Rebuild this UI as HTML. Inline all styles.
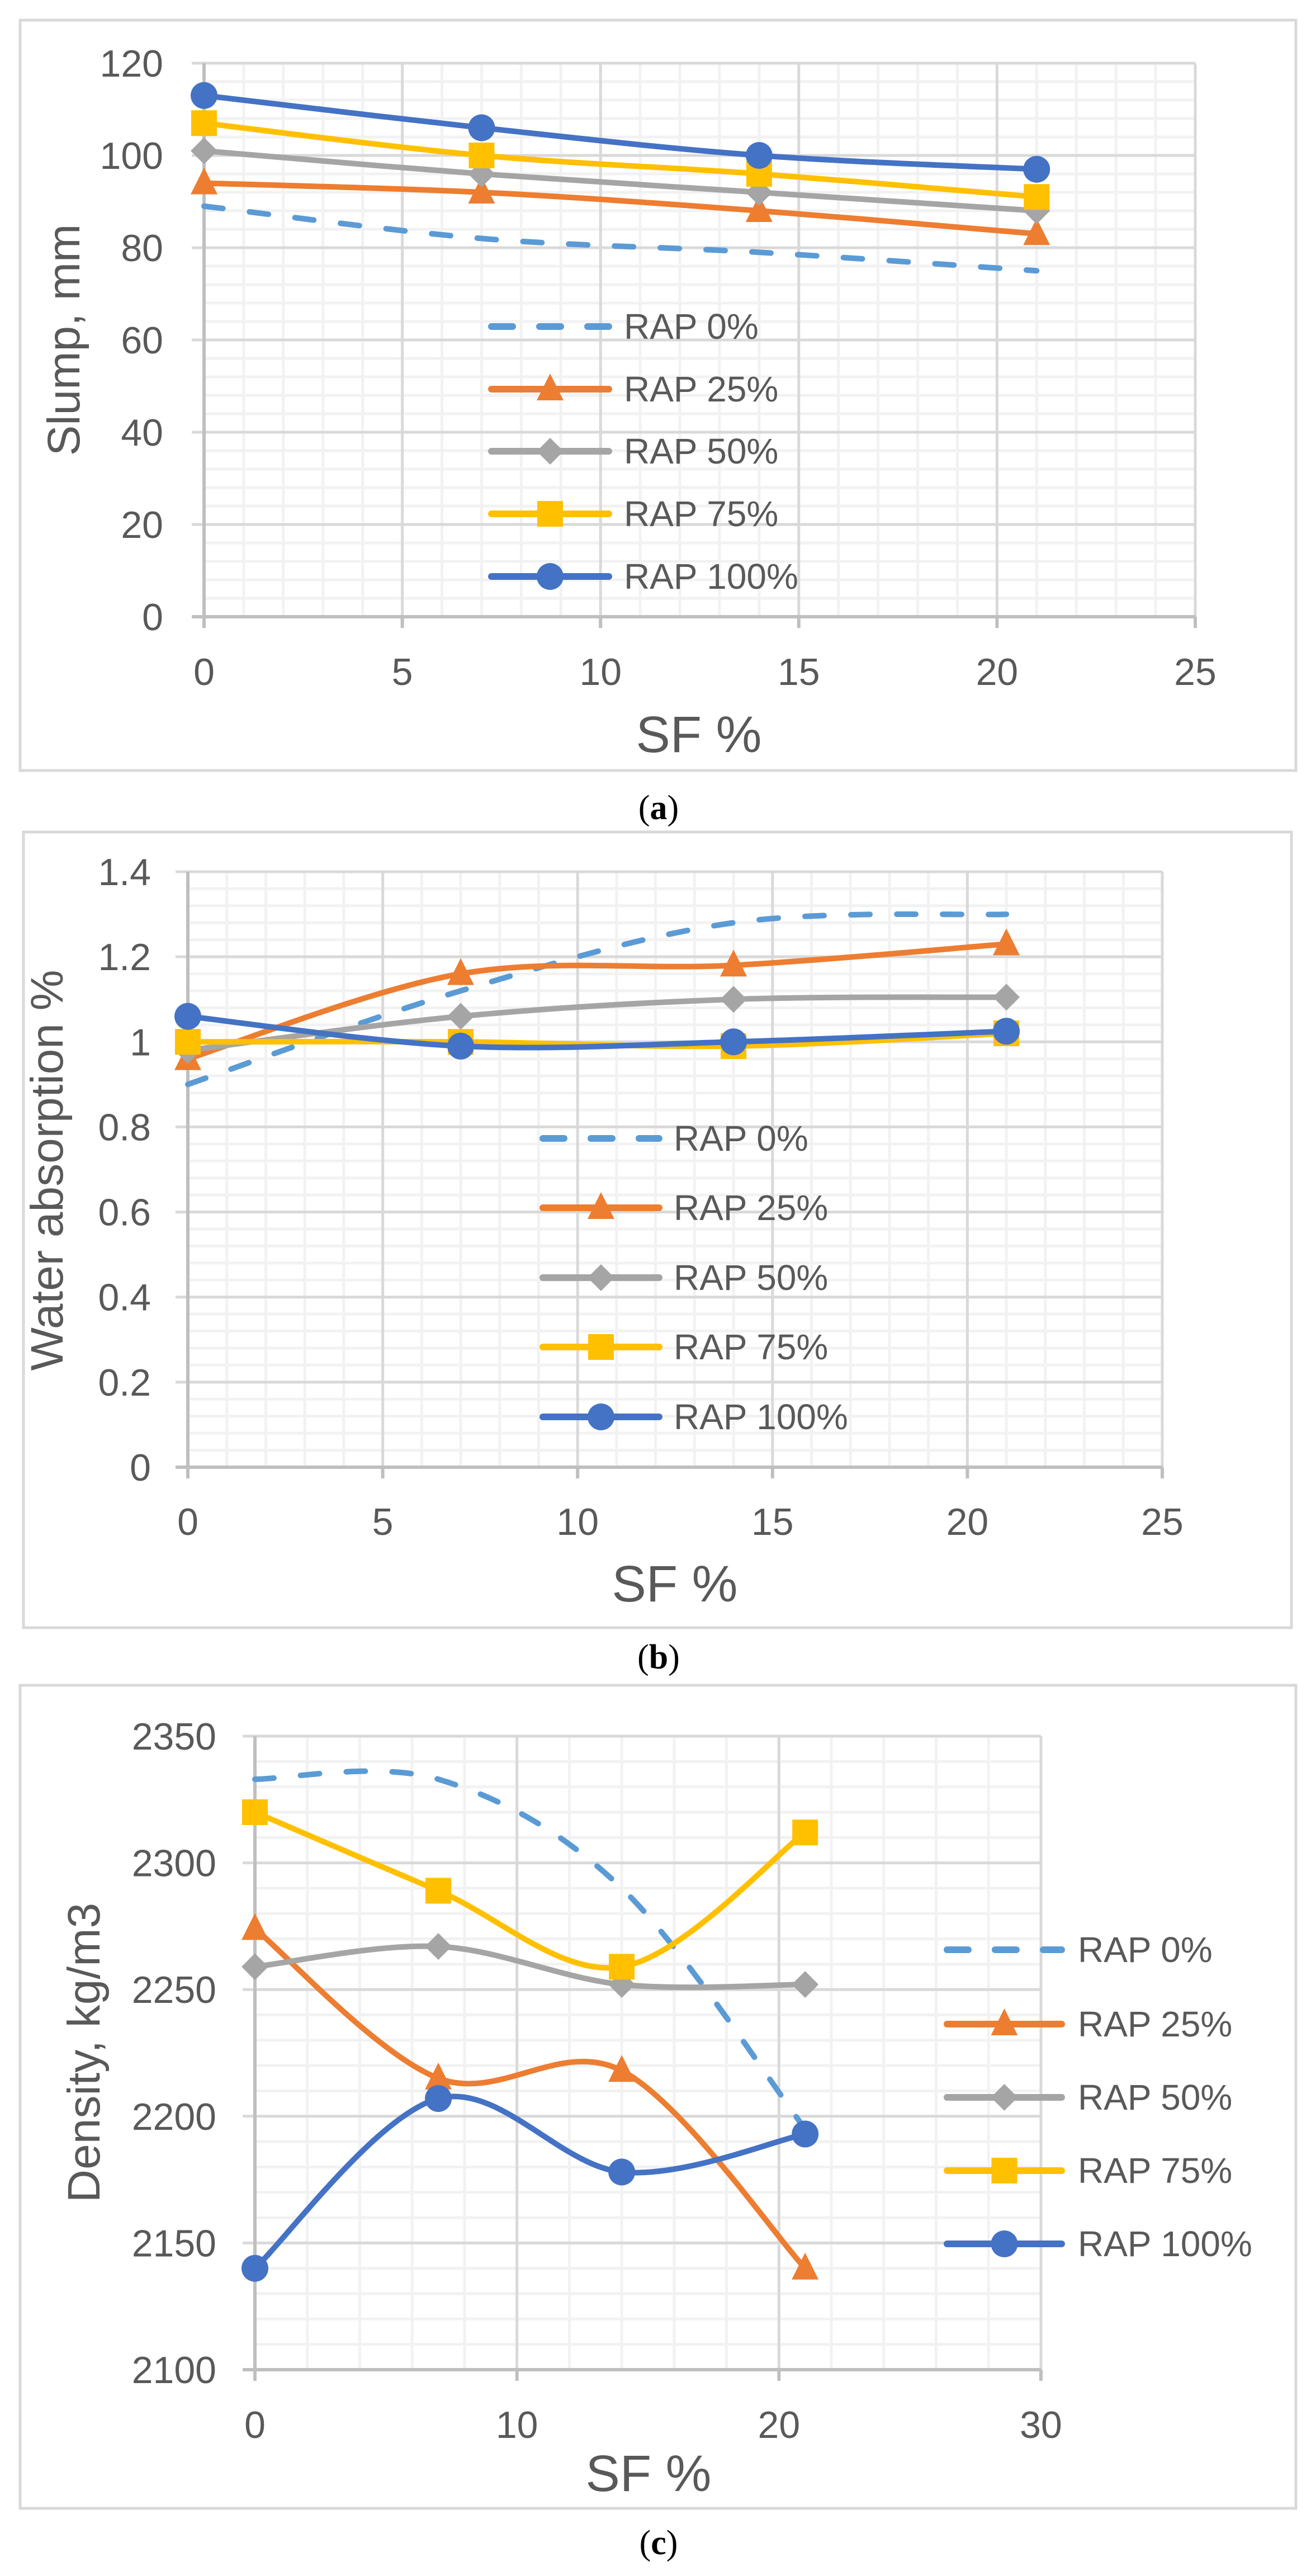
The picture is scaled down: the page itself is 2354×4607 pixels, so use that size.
<!DOCTYPE html>
<html><head><meta charset="utf-8"><style>
html,body{margin:0;padding:0;background:#fff;}
svg{display:block;}
text{font-family:"Liberation Sans Narrow","Liberation Sans",sans-serif;fill:#595959;}
.ttl{font-family:"Liberation Sans",sans-serif;}
.cap{font-family:"Liberation Serif",serif;fill:#000;}
</style></head><body>
<svg id="root" width="2354" height="4607" viewBox="0 0 2354 4607" xmlns="http://www.w3.org/2000/svg"></svg>
<script>
// ---- data ----
const sfValues = [0, 7, 14, 21];
const seriesNames = ["RAP 0%", "RAP 25%", "RAP 50%", "RAP 75%", "RAP 100%"];
const slumpRap0 = [89, 82, 79, 75];
const slumpRap25 = [94, 92, 88, 83];
const slumpRap50 = [101, 96, 92, 88];
const slumpRap75 = [107, 100, 96, 91];
const slumpRap100 = [113, 106, 100, 97];
const absRap0 = [0.90, 1.12, 1.28, 1.30];
const absRap25 = [0.96, 1.16, 1.18, 1.23];
const absRap50 = [0.98, 1.06, 1.10, 1.105];
const absRap75 = [1.00, 1.00, 0.99, 1.02];
const absRap100 = [1.06, 0.99, 1.00, 1.025];
const denRap0 = [2333, 2333, 2290, 2195];
const denRap25 = [2274, 2215, 2218, 2140];
const denRap50 = [2259, 2267, 2252, 2252];
const denRap75 = [2320, 2289, 2259, 2312];
const denRap100 = [2140, 2207, 2178, 2193];
const slumpYTicks = [0, 20, 40, 60, 80, 100, 120];
const absYTicks = [0, 0.2, 0.4, 0.6, 0.8, 1, 1.2, 1.4];
const denYTicks = [2100, 2150, 2200, 2250, 2300, 2350];
const xTicksAB = [0, 5, 10, 15, 20, 25];
const xTicksC = [0, 10, 20, 30];

const colors = ["#5b9bd5", "#ed7d31", "#a5a5a5", "#ffc000", "#4472c4"];
const markers = ["none", "tri", "dia", "sq", "circ"];
const NS = "http://www.w3.org/2000/svg";
const root = document.getElementById('root');
function mk(tag, attrs, parent) {
  const e = document.createElementNS(NS, tag);
  for (const k in attrs) e.setAttribute(k, attrs[k]);
  (parent || root).appendChild(e);
  return e;
}
function smoothPath(pts) {
  let d = "M" + pts[0][0] + "," + pts[0][1];
  const t = 1 / 6;
  for (let i = 0; i < pts.length - 1; i++) {
    const p0 = pts[Math.max(0, i - 1)], p1 = pts[i], p2 = pts[i + 1], p3 = pts[Math.min(pts.length - 1, i + 2)];
    const c1 = [p1[0] + (p2[0] - p0[0]) * t, p1[1] + (p2[1] - p0[1]) * t];
    const c2 = [p2[0] - (p3[0] - p1[0]) * t, p2[1] - (p3[1] - p1[1]) * t];
    d += " C" + c1[0] + "," + c1[1] + " " + c2[0] + "," + c2[1] + " " + p2[0] + "," + p2[1];
  }
  return d;
}
function marker(g, type, x, y, color) {
  let m = null;
  if (type === "circ") m = mk('circle', {cx: x, cy: y, r: 24, fill: color}, g);
  else if (type === "sq") m = mk('rect', {x: x - 23, y: y - 23, width: 46, height: 46, fill: color}, g);
  else if (type === "tri") m = mk('polygon', {points: (x) + "," + (y - 28) + " " + (x + 24) + "," + (y + 20) + " " + (x - 24) + "," + (y + 20), fill: color}, g);
  else if (type === "dia") m = mk('polygon', {points: x + "," + (y - 24) + " " + (x + 24) + "," + y + " " + x + "," + (y + 24) + " " + (x - 24) + "," + y, fill: color}, g);
  if (m) {
    
    
  }
}
function chart(c) {
  const g = mk('g', {});
  
  
  const fr = mk('rect', {x: c.fx1, y: c.fy1, width: c.fx2 - c.fx1, height: c.fy2 - c.fy1, fill: "#fff", stroke: "#d9d9d9", "stroke-width": 5}, g);
  
  
  const X = v => c.px0 + (v - c.xmin) / (c.xmax - c.xmin) * (c.px1 - c.px0);
  const Y = v => c.py0 + (v - c.ymin) / (c.ymax - c.ymin) * (c.py1 - c.py0);
  const grid = mk('g', {}, g);
  
  
  for (let v = c.xmin; v <= c.xmax + 1e-9; v += c.xminor) mk('line', {x1: X(v), x2: X(v), y1: c.py1, y2: c.py0, stroke: "#f2f2f2", "stroke-width": 5}, grid);
  for (let v = c.ymin; v <= c.ymax + 1e-9; v += c.yminor) mk('line', {x1: c.px0, x2: c.px1, y1: Y(v), y2: Y(v), stroke: "#f2f2f2", "stroke-width": 5}, grid);
  c.xticks.forEach(v => mk('line', {x1: X(v), x2: X(v), y1: c.py1, y2: c.py0, stroke: "#d9d9d9", "stroke-width": 5}, grid));
  c.yticks.forEach(v => mk('line', {x1: c.px0 - 22, x2: c.px1, y1: Y(v), y2: Y(v), stroke: "#d9d9d9", "stroke-width": 5}, grid));
  mk('line', {x1: c.px0, x2: c.px0, y1: c.py1, y2: c.py0 + 20, stroke: "#bfbfbf", "stroke-width": 6}, grid);
  mk('line', {x1: c.px0 - 22, x2: c.px1, y1: c.py0, y2: c.py0, stroke: "#bfbfbf", "stroke-width": 6}, grid);
  c.xticks.forEach(v => mk('line', {x1: X(v), x2: X(v), y1: c.py0, y2: c.py0 + 20, stroke: "#bfbfbf", "stroke-width": 6}, grid));
  c.yticks.forEach(v => {
    const t = mk('text', {x: c.ylabX, y: Y(v) + 24, "text-anchor": "end", "font-size": 68}, g);
    t.textContent = String(v);
    
    
  });
  c.xticks.forEach(v => {
    const t = mk('text', {x: X(v), y: c.xlabY, "text-anchor": "middle", "font-size": 68}, g);
    t.textContent = String(v);
    
    
  });
  const xt = mk('text', {x: c.xtX, y: c.xtY, "text-anchor": "middle", "font-size": 92}, g);
  xt.textContent = "SF %";
  
  
  const yt = mk('text', {x: 0, y: 0, "text-anchor": "middle", "font-size": 82, class: "ttl", transform: "translate(" + c.ytX + "," + c.ytY + ") rotate(-90)"}, g);
  yt.textContent = c.ytitle;
  
  
  c.series.forEach((vals, i) => {
    const sg = mk('g', {}, g);
    
    
    const pts = vals.map((v, k) => [X(sfValues[k]), Y(v)]);
    const p = mk('path', {d: smoothPath(pts), fill: "none", stroke: colors[i], "stroke-width": 10, "stroke-linecap": "round", "stroke-linejoin": "round"}, sg);
    if (i === 0) p.setAttribute('stroke-dasharray', '34,48');
    
    
    pts.forEach(pt => marker(sg, markers[i], pt[0], pt[1], colors[i]));
  });
  const lg = mk('g', {}, g);
  
  
  seriesNames.forEach((n, i) => {
    const ly = c.legY[i];
    const e = mk('g', {}, lg);
    
    
    const l = mk('line', {x1: c.legX1 + 6, x2: c.legX2 - 6, y1: ly, y2: ly, stroke: colors[i], "stroke-width": 12, "stroke-linecap": "round"}, e);
    if (i === 0) l.setAttribute('stroke-dasharray', '38,48');
    marker(e, markers[i], (c.legX1 + c.legX2) / 2, ly, colors[i]);
    const t = mk('text', {x: c.legTX, y: ly + 22, "font-size": 64}, e);
    t.textContent = n;
  });
  const cp = mk('text', {x: 1178, y: c.capY, "text-anchor": "middle", "font-size": 62, class: "cap"}, g);
  cp.innerHTML = c.cap;
  
  
}
chart({name: "slump-chart", fx1: 36, fy1: 36, fx2: 2318, fy2: 1378,
  px0: 365, px1: 2138, py0: 1103, py1: 113, xmin: 0, xmax: 25, ymin: 0, ymax: 120,
  xminor: 1, yminor: 4, xticks: xTicksAB, yticks: slumpYTicks,
  ylabX: 292, xlabY: 1225, xtX: 1250, xtY: 1345, ytX: 142, ytY: 608, ytitle: "Slump,  mm",
  series: [slumpRap0, slumpRap25, slumpRap50, slumpRap75, slumpRap100],
  legX1: 873, legX2: 1095, legTX: 1116, legY: [584, 696, 807, 919, 1031],
  capY: 1465, cap: '(<tspan font-weight="bold">a</tspan>)'});
chart({name: "water-absorption-chart", fx1: 42, fy1: 1488, fx2: 2310, fy2: 2911,
  px0: 336, px1: 2079, py0: 2624, py1: 1559, xmin: 0, xmax: 25, ymin: 0, ymax: 1.4,
  xminor: 1, yminor: 0.04, xticks: xTicksAB, yticks: absYTicks,
  ylabX: 270, xlabY: 2745, xtX: 1207, xtY: 2864, ytX: 112, ytY: 2093, ytitle: "Water absorption %",
  series: [absRap0, absRap25, absRap50, absRap75, absRap100],
  legX1: 965, legX2: 1185, legTX: 1205, legY: [2036, 2160, 2285, 2409, 2534],
  capY: 2984, cap: '(<tspan font-weight="bold">b</tspan>)'});
chart({name: "density-chart", fx1: 36, fy1: 3014, fx2: 2318, fy2: 4486,
  px0: 456, px1: 1862, py0: 4238, py1: 3105, xmin: 0, xmax: 30, ymin: 2100, ymax: 2350,
  xminor: 2, yminor: 10, xticks: xTicksC, yticks: denYTicks,
  ylabX: 387, xlabY: 4360, xtX: 1160, xtY: 4455, ytX: 178, ytY: 3671, ytitle: "Density,  kg/m3",
  series: [denRap0, denRap25, denRap50, denRap75, denRap100],
  legX1: 1688, legX2: 1905, legTX: 1928, legY: [3487, 3620, 3751, 3882, 4013],
  capY: 4568, cap: '(<tspan font-weight="bold">c</tspan>)'});
</script>
</body></html>
